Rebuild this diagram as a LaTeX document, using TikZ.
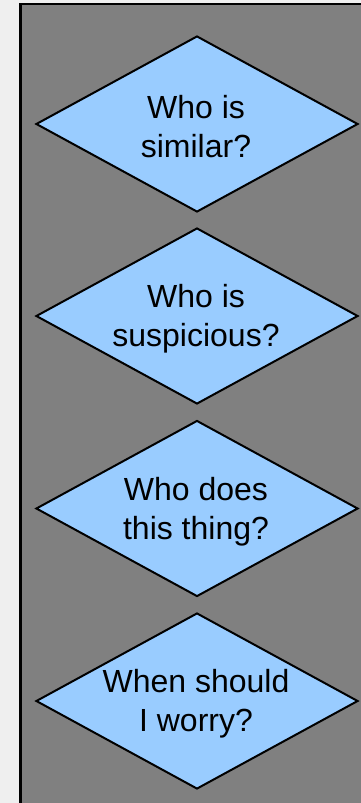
\documentclass[tikz,border=0pt]{standalone}
\usepackage{fontspec}
\setmainfont{Liberation Sans}
\usetikzlibrary{shapes.geometric}
\definecolor{bgpage}{HTML}{EFEFEF}
\definecolor{panel}{HTML}{808080}
\definecolor{qfill}{HTML}{99CCFF}
\tikzset{
  qbox/.style={shape=diamond, draw=black, fill=qfill, line width=2pt,
    inner sep=0pt, minimum width=322pt, minimum height=176pt},
  qtext/.style={align=center, inner sep=0pt,
    font=\fontsize{32pt}{39pt}\selectfont, text=black}
}
\begin{document}
\begin{tikzpicture}[x=1pt,y=-1pt]
\useasboundingbox (0,0) rectangle (361,803);
\clip (0,0) rectangle (361,803);
\fill[bgpage] (0,0) rectangle (361,803);
\draw[fill=panel, draw=black, line width=2.2pt] (20.5,4) rectangle (370,812);
\node[qbox] (d1) at (197,124) {};
\node[qbox] (d2) at (197,316) {};
\node[qbox] (d3) at (197,508.5) {};
\node[qbox] (d4) at (197,701) {};
\node[qtext] (t1) at (196,127) {Who is\\similar?};
\node[qtext] (t2) at (196,319) {Who is\\suspicious?};
\node[qtext] (t3) at (196,511.5) {Who does\\this thing?};
\node[qtext] (t4) at (196,704) {When should\\I worry?};
\end{tikzpicture}
\end{document}
